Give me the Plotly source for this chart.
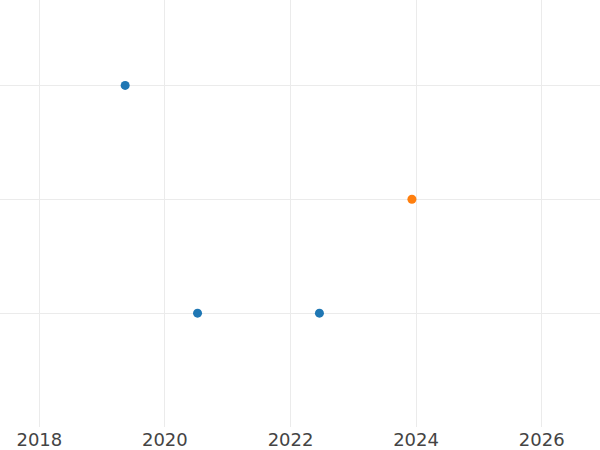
import plotly.graph_objects as go

# blue series
blue_dates = ["2019-05-15", "2020-07-09", "2022-06-18"]
blue_values = [3, 1, 1]

# orange series
orange_dates = ["2023-12-08"]
orange_values = [2]

x_range = ["2017-05-17", "2026-12-06"]
y_range = [0, 3.75]
y_ticks = [1, 2, 3]

fig = go.Figure()
fig.add_trace(go.Scatter(
    x=blue_dates, y=blue_values, mode="markers",
    marker=dict(color="#1f77b4", size=9), showlegend=False,
))
fig.add_trace(go.Scatter(
    x=orange_dates, y=orange_values, mode="markers",
    marker=dict(color="#ff7f0e", size=9), showlegend=False,
))

fig.update_layout(
    template="none",
    width=600, height=450,
    margin=dict(l=0, r=0, t=0, b=23),
    paper_bgcolor="white", plot_bgcolor="white",
    font=dict(family="DejaVu Sans", size=18, color="#444"),
)
fig.update_xaxes(
    type="date", range=x_range, dtick="M24", tickformat="%Y",
    showgrid=True, gridcolor="#ebebeb", gridwidth=1,
    zeroline=False, showline=False, ticks="",
)
fig.update_yaxes(
    range=y_range, tickvals=y_ticks, showticklabels=False,
    showgrid=True, gridcolor="#ebebeb", gridwidth=1,
    zeroline=False, showline=False, ticks="",
)

# page has a default body margin; drop it so the figure sits at the corner
fig.write_html(
    "out.html",
    config={"displayModeBar": False},
    post_script="document.body.style.margin='0';",
)
